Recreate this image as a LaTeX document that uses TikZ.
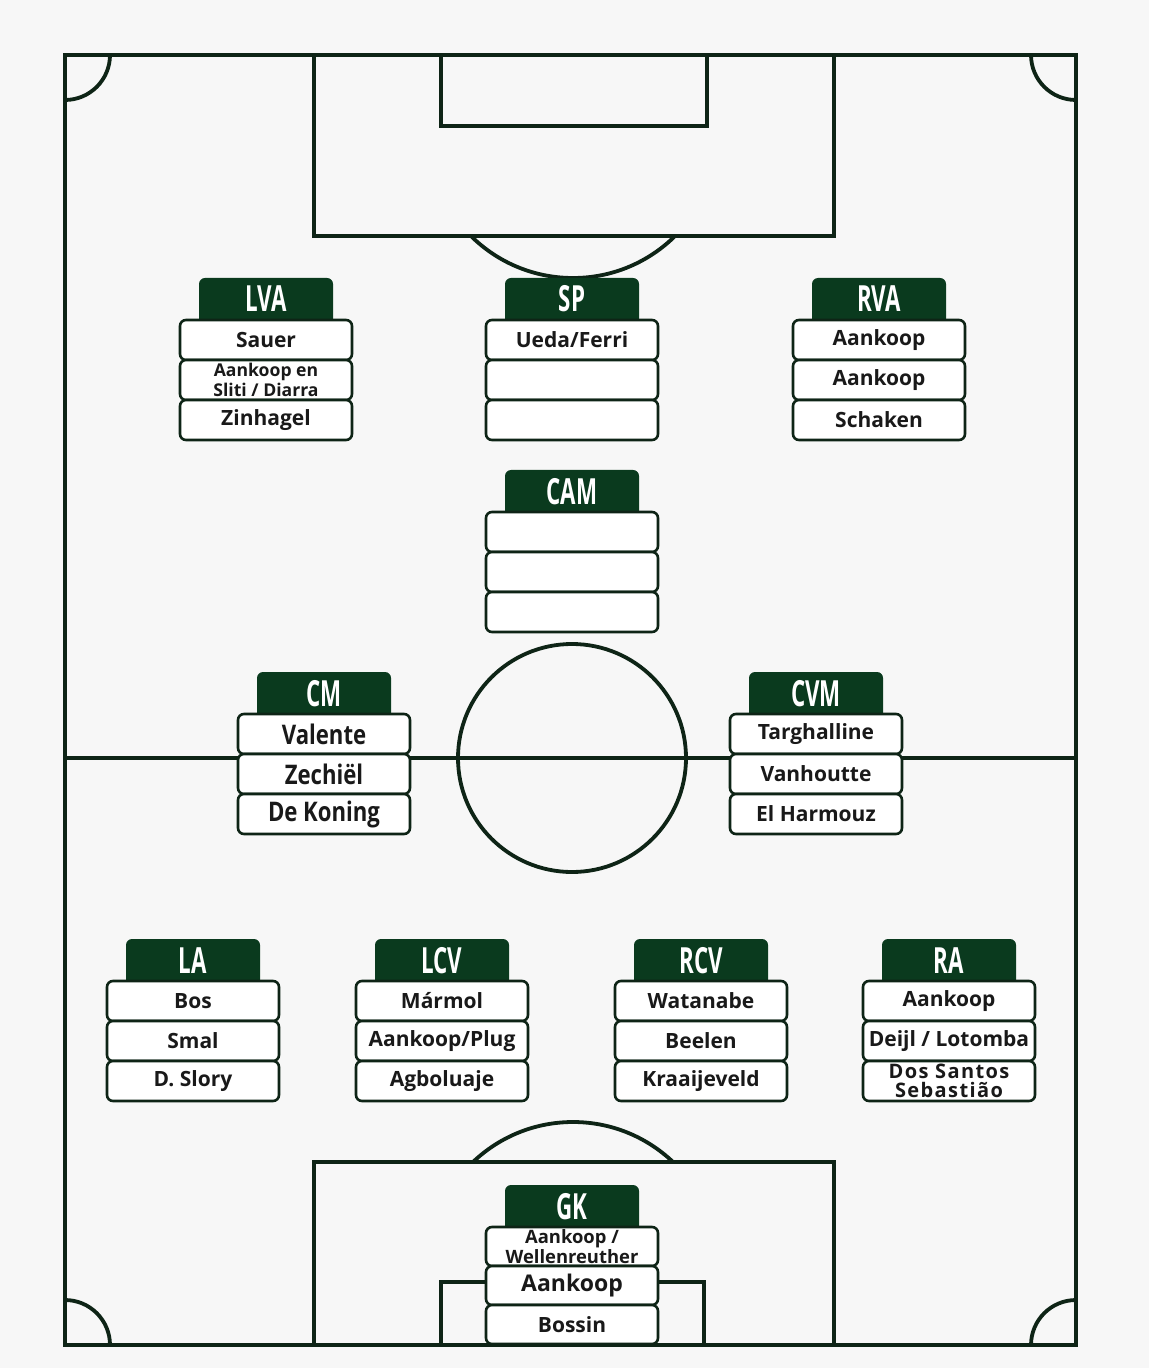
\documentclass[tikz,border=0pt]{standalone}
\usepackage{fontspec}
\setmainfont{Open Sans}
\newfontfamily\hdfont[FakeStretch=0.62]{Open Sans}
\newfontfamily\cmfont[FakeStretch=0.82]{Open Sans}
\newfontfamily\widefont[LetterSpace=7]{Open Sans}
\usetikzlibrary{positioning}
\definecolor{pitchline}{RGB}{14,36,22}
\definecolor{hdgreen}{RGB}{10,58,30}
\definecolor{paper}{RGB}{247,247,247}
\tikzset{
  pline/.style={draw=pitchline,line width=1.9pt},
  poshead/.style={fill=hdgreen,rounded corners=3pt,minimum width=67pt,inner xsep=0pt,inner ysep=4.5pt,outer sep=0pt,
    text height=12.5pt,text depth=3.5pt,text=white,font=\hdfont\bfseries\fontsize{18}{18}\selectfont},
  namebox/.style={draw=pitchline,fill=white,line width=1.3pt,rounded corners=3pt,minimum width=86pt,outer sep=0pt,
    minimum height=20pt,inner sep=0pt,align=center,text=black!90,font=\bfseries\fontsize{10.5}{11}\selectfont},
  twoline/.style={font=\bfseries\fontsize{8.8}{8.4}\selectfont},
  cmrow/.style={font=\cmfont\bfseries\fontsize{13.5}{14}\selectfont},
  widerow/.style={font=\widefont\bfseries\fontsize{10}{9.6}\selectfont},
  gkrow/.style={minimum height=19.5pt}
}

\begin{document}
\begin{tikzpicture}[x=0.5pt,y=-0.5pt]
\fill[paper] (0,0) rectangle (1149,1368);
\useasboundingbox (0,0) rectangle (1149,1368);
% pitch
\draw[pline] (65,55) rectangle (1076,1345);
\draw[pline] (65,758) -- (1076,758);
\draw[pline] (572,758) circle[radius=114];
\draw[pline] (314,55) rectangle (834,236) (441,55) rectangle (707,126);
\draw[pline] (314,1162) rectangle (834,1345) (441,1282) rectangle (704,1345);
\begin{scope}
  \clip (300,236) rectangle (850,400);
  \draw[pline] (573,133) circle[radius=145];
\end{scope}
\begin{scope}
  \clip (300,1000) rectangle (850,1162);
  \draw[pline] (573,1267) circle[radius=145];
\end{scope}
\draw[pline] (110,55) arc[start angle=0,end angle=90,radius=45];
\draw[pline] (1031,55) arc[start angle=180,end angle=90,radius=45];
\draw[pline] (110,1345) arc[start angle=0,end angle=-90,radius=45];
\draw[pline] (1031,1345) arc[start angle=180,end angle=270,radius=45];
% positions
\foreach \n/\t/\x/\y in {lva/LVA/266/278,sp/SP/572/278,rva/RVA/879/278,cam/CAM/572/470,
  cm/CM/324/672,cvm/CVM/816/672,la/LA/193/939,lcv/LCV/442/939,rcv/RCV/701/939,ra/RA/949/939,gk/GK/572/1185}
  {\node[poshead,anchor=north] (\n) at (\x,\y) {\t};}
% players
\node[namebox,below=-4pt of lva] (lva1) {Sauer};
\node[namebox,twoline,below=0pt of lva1] (lva2) {Aankoop en\\Sliti / Diarra};
\node[namebox,below=0pt of lva2] (lva3) {Zinhagel};
\node[namebox,below=-4pt of sp] (sp1) {Ueda/Ferri};
\node[namebox,below=0pt of sp1] (sp2) {};
\node[namebox,below=0pt of sp2] (sp3) {};
\node[namebox,below=-4pt of rva] (rva1) {Aankoop};
\node[namebox,below=0pt of rva1] (rva2) {Aankoop};
\node[namebox,below=0pt of rva2] (rva3) {Schaken};
\node[namebox,below=-4pt of cam] (cam1) {};
\node[namebox,below=0pt of cam1] (cam2) {};
\node[namebox,below=0pt of cam2] (cam3) {};
\node[namebox,cmrow,below=-4pt of cm] (cm1) {Valente};
\node[namebox,cmrow,below=0pt of cm1] (cm2) {Zechiël};
\node[namebox,cmrow,below=0pt of cm2] (cm3) {De Koning};
\node[namebox,below=-4pt of cvm] (cvm1) {Targhalline};
\node[namebox,below=0pt of cvm1] (cvm2) {Vanhoutte};
\node[namebox,below=0pt of cvm2] (cvm3) {El Harmouz};
\node[namebox,below=-4pt of la] (la1) {Bos};
\node[namebox,below=0pt of la1] (la2) {Smal};
\node[namebox,below=0pt of la2] (la3) {D. Slory};
\node[namebox,below=-4pt of lcv] (lcv1) {Mármol};
\node[namebox,below=0pt of lcv1] (lcv2) {Aankoop/Plug};
\node[namebox,below=0pt of lcv2] (lcv3) {Agboluaje};
\node[namebox,below=-4pt of rcv] (rcv1) {Watanabe};
\node[namebox,below=0pt of rcv1] (rcv2) {Beelen};
\node[namebox,below=0pt of rcv2] (rcv3) {Kraaijeveld};
\node[namebox,below=-4pt of ra] (ra1) {Aankoop};
\node[namebox,below=0pt of ra1] (ra2) {Deijl / Lotomba};
\node[namebox,widerow,below=0pt of ra2] (ra3) {Dos Santos\\Sebastião};
\node[namebox,gkrow,twoline,below=-4pt of gk,font=\bfseries\fontsize{9.2}{8.6}\selectfont] (gk1) {Aankoop /\\Wellenreuther};
\node[namebox,gkrow,below=0pt of gk1,font=\bfseries\fontsize{11.5}{12}\selectfont] (gk2) {Aankoop};
\node[namebox,gkrow,below=0pt of gk2] (gk3) {Bossin};
\end{tikzpicture}
\end{document}
